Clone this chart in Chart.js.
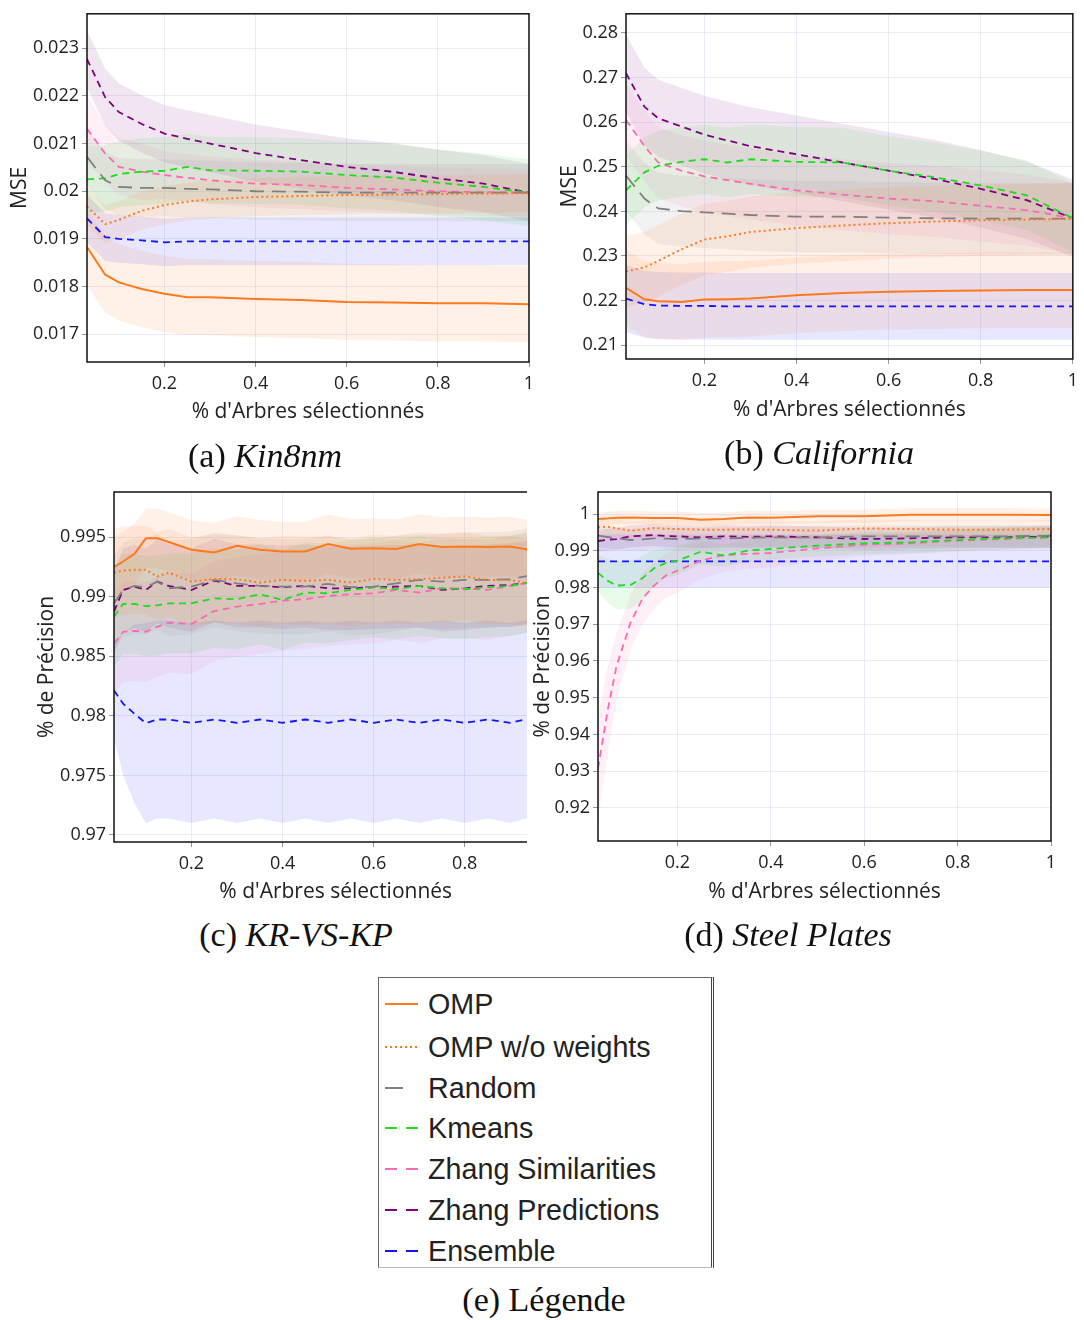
<!DOCTYPE html>
<html>
<head>
<meta charset="utf-8">
<script src="https://cdn.jsdelivr.net/npm/chart.js@4.4.1/dist/chart.umd.min.js"></script>
<style>
body { margin: 0; background: #fff; }
#page { position: relative; width: 1084px; height: 1320px; overflow: hidden; }
canvas { position: absolute; }
#krWrap { position: absolute; left: 0; top: 470px; width: 527px; height: 440px; overflow: hidden; }
.cap { position: absolute; width: 400px; text-align: center; font-family: "Liberation Serif", serif; font-size: 34px; line-height: 40px; color: #111; }
#legend { position: absolute; left: 378px; top: 977px; width: 332px; height: 289px; border: 1px solid #666; border-right: 3px double #444; border-bottom-color: #bbb; }
.row { position: absolute; left: 0; width: 330px; height: 40px; }
.row svg { position: absolute; left: 5px; top: 0; }
.row span { position: absolute; left: 49px; top: 0; line-height: 40px; font-family: "Liberation Sans", Arial, sans-serif; font-size: 28.7px; color: #222; white-space: nowrap; }
</style>
</head>
<body>
<div id="page">
  <canvas id="kin" width="545" height="430" style="left:0;top:0"></canvas>
  <canvas id="cal" width="544" height="430" style="left:540px;top:0"></canvas>
  <div id="krWrap"><canvas id="kr" width="567" height="440" style="left:0;top:0"></canvas></div>
  <canvas id="steel" width="564" height="440" style="left:520px;top:470px"></canvas>

  <div class="cap" style="left:65px;top:436px">(a) <i>Kin8nm</i></div>
  <div class="cap" style="left:619px;top:433px">(b) <i>California</i></div>
  <div class="cap" style="left:96px;top:915px">(c) <i>KR-VS-KP</i></div>
  <div class="cap" style="left:588px;top:915px">(d) <i>Steel Plates</i></div>
  <div class="cap" style="left:344px;top:1280px">(e) Légende</div>

  <div id="legend"></div>
</div>
<script>
// noms des méthodes
const names = ["OMP", "OMP w/o weights", "Random", "Kmeans", "Zhang Similarities", "Zhang Predictions", "Ensemble"];

// (a) Kin8nm
const xKin = [0.03, 0.07, 0.1, 0.15, 0.2, 0.25, 0.3, 0.4, 0.5, 0.6, 0.7, 0.8, 0.9, 1.0];
const kinOmp = [0.01883, 0.01825, 0.01809, 0.01795, 0.01785, 0.01778, 0.01778, 0.01774, 0.01772, 0.01768, 0.01767, 0.01765, 0.01765, 0.01763];
const kinOmpNw = [0.01968, 0.01931, 0.0194, 0.01959, 0.01971, 0.01978, 0.01983, 0.01988, 0.0199, 0.01992, 0.01993, 0.01994, 0.01995, 0.01996];
const kinRand = [0.02072, 0.02023, 0.02009, 0.02007, 0.02007, 0.02005, 0.02004, 0.02, 0.01999, 0.01997, 0.01997, 0.01997, 0.01997, 0.01997];
const kinKm = [0.02025, 0.02027, 0.02036, 0.02041, 0.02043, 0.02051, 0.02044, 0.02043, 0.02041, 0.02034, 0.02029, 0.02018, 0.02009, 0.01997];
const kinZs = [0.02131, 0.02079, 0.02051, 0.02041, 0.02034, 0.02028, 0.02023, 0.02016, 0.02013, 0.02007, 0.02004, 0.02, 0.01998, 0.01997];
const kinZp = [0.02277, 0.02197, 0.02166, 0.02141, 0.02121, 0.0211, 0.021, 0.0208, 0.02065, 0.02051, 0.02041, 0.02027, 0.02016, 0.01997];
const kinEns = [0.01943, 0.01904, 0.019, 0.01897, 0.01893, 0.01895, 0.01895, 0.01895, 0.01895, 0.01895, 0.01895, 0.01895, 0.01895, 0.01895];
const kinSd = [0.0008, 0.0004, 0.0006, 0.0007, [0.0007, 0.0006, 0.0006, 0.0006, 0.0005, 0.0005, 0.0005, 0.0005, 0.0005, 0.0005, 0.0005, 0.0005, 0.0005, 0.0005], 0.0006, 0.0005];

// (b) California
const xCal = [0.03, 0.07, 0.1, 0.15, 0.2, 0.25, 0.3, 0.4, 0.5, 0.6, 0.7, 0.8, 0.9, 1.0];
const calOmp = [0.22287, 0.22029, 0.21985, 0.2197, 0.22022, 0.2203, 0.22044, 0.22118, 0.22169, 0.22199, 0.22213, 0.22228, 0.22235, 0.22235];
const calOmpNw = [0.22654, 0.22743, 0.2289, 0.23147, 0.23368, 0.23441, 0.23537, 0.23625, 0.23684, 0.23735, 0.23772, 0.23801, 0.23816, 0.23831];
const calRand = [0.24801, 0.24287, 0.24066, 0.24007, 0.23978, 0.2395, 0.23919, 0.23882, 0.23882, 0.2386, 0.23845, 0.23838, 0.23838, 0.23838];
const calKm = [0.24471, 0.24875, 0.25022, 0.2511, 0.25169, 0.25096, 0.25169, 0.2511, 0.25096, 0.24912, 0.24765, 0.24581, 0.2436, 0.23846];
const calZs = [0.26051, 0.25463, 0.25096, 0.24912, 0.24787, 0.247, 0.24618, 0.24471, 0.24375, 0.24287, 0.24228, 0.24125, 0.24029, 0.23846];
const calZp = [0.27096, 0.26346, 0.26088, 0.25904, 0.25721, 0.2559, 0.25463, 0.2528, 0.25096, 0.24912, 0.24728, 0.24507, 0.2425, 0.23846];
const calEns = [0.22044, 0.21919, 0.2189, 0.2188, 0.2188, 0.2187, 0.2187, 0.2187, 0.2187, 0.2187, 0.2187, 0.2187, 0.2187, 0.2187];
const calSd = [0.0085, 0.008, 0.008, 0.0078, 0.008, 0.0087, 0.0075];

// (c) KR-VS-KP
const xKr = [0.03, 0.05, 0.075, 0.1, 0.125, 0.15, 0.2, 0.25, 0.3, 0.35, 0.4, 0.45, 0.5, 0.55, 0.6, 0.65, 0.7, 0.75, 0.8, 0.85, 0.9, 0.94];
const krOmp = [0.99247, 0.99295, 0.9936, 0.99489, 0.99489, 0.99458, 0.99393, 0.99371, 0.99427, 0.99393, 0.99379, 0.99379, 0.99441, 0.99402, 0.99407, 0.99399, 0.99441, 0.99416, 0.99421, 0.99416, 0.99421, 0.99393];
const krOmpNw = [0.99202, 0.99219, 0.99225, 0.99225, 0.99169, 0.99202, 0.99126, 0.99149, 0.99146, 0.99118, 0.9914, 0.99132, 0.9914, 0.99118, 0.99149, 0.9914, 0.99146, 0.9916, 0.99169, 0.9914, 0.9914, 0.99112];
const krRand = [0.98944, 0.99056, 0.9909, 0.99079, 0.99126, 0.9907, 0.99084, 0.9914, 0.99112, 0.9909, 0.99084, 0.99084, 0.99107, 0.99079, 0.99084, 0.99112, 0.9914, 0.99126, 0.9914, 0.9914, 0.99146, 0.99174];
const krKm = [0.98831, 0.98938, 0.98938, 0.98921, 0.98927, 0.98944, 0.98944, 0.98986, 0.98978, 0.9902, 0.98972, 0.99034, 0.99028, 0.99056, 0.99079, 0.99062, 0.9909, 0.9907, 0.99062, 0.99079, 0.9909, 0.99118];
const krZs = [0.98607, 0.98705, 0.98713, 0.98705, 0.98747, 0.98781, 0.9877, 0.98879, 0.98916, 0.98938, 0.98966, 0.98978, 0.99006, 0.9902, 0.99028, 0.99056, 0.99034, 0.9907, 0.9907, 0.99056, 0.9909, 0.99118];
const krZp = [0.98874, 0.99056, 0.99084, 0.99056, 0.99126, 0.9909, 0.99056, 0.99135, 0.9909, 0.9909, 0.99079, 0.9909, 0.9907, 0.9907, 0.99079, 0.99084, 0.9909, 0.99056, 0.9907, 0.9909, 0.99098, 0.99118];
const krEns = [0.98213, 0.98101, 0.98017, 0.97938, 0.97969, 0.97969, 0.97941, 0.97969, 0.97941, 0.97969, 0.97941, 0.97969, 0.97941, 0.97969, 0.97941, 0.97969, 0.97941, 0.97969, 0.97941, 0.97969, 0.97941, 0.97975];
const krEnsSd = [0.004, 0.006, 0.0075, 0.0084, 0.0083, 0.0083, 0.0084, 0.0083, 0.0084, 0.0083, 0.0084, 0.0083, 0.0084, 0.0083, 0.0084, 0.0083, 0.0084, 0.0083, 0.0084, 0.0083, 0.0084, 0.0083];
const krSd = [0.0025, 0.0037, 0.004, 0.0042, 0.0042, 0.0035, krEnsSd];

// (d) Steel Plates
const xSteel = [0.03, 0.05, 0.07, 0.1, 0.125, 0.15, 0.175, 0.2, 0.25, 0.3, 0.35, 0.4, 0.5, 0.6, 0.7, 0.8, 0.9, 1.0];
const stOmp = [0.99864, 0.99882, 0.999, 0.99909, 0.999, 0.99891, 0.99891, 0.99891, 0.99846, 0.99864, 0.99909, 0.999, 0.99937, 0.99937, 0.99982, 0.99982, 0.99982, 0.99973];
const stOmpNw = [0.99638, 0.99656, 0.9961, 0.99547, 0.9958, 0.9962, 0.996, 0.99592, 0.99574, 0.99574, 0.9958, 0.99574, 0.99547, 0.9961, 0.99592, 0.99574, 0.99574, 0.99592];
const stRand = [0.99411, 0.99375, 0.99339, 0.99293, 0.9931, 0.99339, 0.9933, 0.9932, 0.9933, 0.99339, 0.9935, 0.99366, 0.99366, 0.99393, 0.99393, 0.99393, 0.99393, 0.99411];
const stKm = [0.98397, 0.98188, 0.98053, 0.98071, 0.9825, 0.98524, 0.98668, 0.98732, 0.98976, 0.98868, 0.99004, 0.99049, 0.9914, 0.99203, 0.9923, 0.99293, 0.99339, 0.99366];
const stZs = [0.93071, 0.9461, 0.95879, 0.97056, 0.9769, 0.98053, 0.98324, 0.9846, 0.98732, 0.98886, 0.98913, 0.9894, 0.99067, 0.99167, 0.99203, 0.99275, 0.9932, 0.99366];
const stZp = [0.99266, 0.99302, 0.9932, 0.99393, 0.9941, 0.99429, 0.994, 0.99393, 0.99366, 0.99393, 0.9938, 0.99393, 0.99366, 0.9932, 0.99339, 0.99366, 0.99366, 0.99384];
const stEns = [0.98714, 0.98714, 0.98714, 0.98714, 0.98714, 0.98714, 0.98714, 0.98714, 0.98714, 0.98714, 0.98714, 0.98714, 0.98714, 0.98714, 0.98714, 0.98714, 0.98714, 0.98714];
const stKmSd = [0.005, 0.006, 0.0065, 0.0065, 0.006, 0.005, 0.004, 0.004, 0.0035, 0.003, 0.003, 0.003, 0.003, 0.003, 0.003, 0.003, 0.003, 0.003];
const stZsSd = [0.014, 0.012, 0.009, 0.0075, 0.007, 0.0065, 0.006, 0.006, 0.005, 0.0045, 0.004, 0.004, 0.0035, 0.003, 0.003, 0.003, 0.003, 0.003];
const stSd = [0.0018, 0.0025, 0.003, stKmSd, stZsSd, 0.003, 0.0073];

// styles des courbes
const colors = ["rgb(255,122,28)", "rgb(255,122,28)", "rgb(128,128,128)", "rgb(30,220,30)", "rgb(255,105,180)", "rgb(128,0,128)", "rgb(20,20,255)"];
const dashes = [[], [2, 3], [14, 8], [7, 5], [7, 5], [7, 5], [7, 5]];
const widths = [2, 2, 1.8, 1.8, 1.8, 1.8, 1.8];
const gridColor = "rgba(226,229,244,0.75)";

function withAlpha(c, a) {
    return c.replace("rgb(", "rgba(").replace(")", "," + a + ")");
}

function buildSets(xs, means, sds) {
    const sets = [];
    //bandes d'écart-type, dessinées sous les courbes
    means.forEach((m, i) => {
        const sd = sds[i];
        const s = (j) => Array.isArray(sd) ? sd[j] : sd;
        sets.push({ data: xs.map((x, j) => ({ x: x, y: m[j] + s(j) })), borderWidth: 0, pointRadius: 0, fill: false, order: 10 });
        sets.push({ data: xs.map((x, j) => ({ x: x, y: m[j] - s(j) })), borderWidth: 0, pointRadius: 0, fill: "-1", backgroundColor: withAlpha(colors[i], 0.1), order: 10 });
    });
    means.forEach((m, i) => {
        sets.push({
            label: names[i],
            data: xs.map((x, j) => ({ x: x, y: m[j] })),
            borderColor: colors[i], borderWidth: widths[i], borderDash: dashes[i],
            pointRadius: 0, fill: false, tension: 0, order: 0
        });
    });
    return sets;
}

const boxPlugin = {
    id: "box",
    afterDraw(chart) {
        const ctx = chart.ctx, a = chart.chartArea;
        ctx.save();
        ctx.strokeStyle = "#111";
        ctx.lineWidth = 1.5;
        ctx.strokeRect(a.left, a.top, a.right - a.left, a.bottom - a.top);
        ctx.restore();
    }
};

const fmt = (v) => String(+v.toFixed(6));

function makePanel(id, xs, means, sds, p) {
    new Chart(document.getElementById(id), {
        type: "line",
        data: { datasets: buildSets(xs, means, sds) },
        options: {
            responsive: false,
            animation: false,
            layout: { autoPadding: false, padding: p.pad },
            plugins: { legend: { display: false }, tooltip: { enabled: false } },
            scales: {
                x: {
                    type: "linear", min: p.xmin, max: p.xmax,
                    afterFit: (s) => { s.height = p.xh; },
                    ticks: { stepSize: 0.2, includeBounds: false, maxRotation: 0, autoSkip: false, padding: 6, color: "#222", font: { family: "Open Sans", size: 18 }, callback: fmt },
                    grid: { color: gridColor, tickColor: "#999", tickLength: 5 },
                    border: { display: false },
                    title: { display: true, text: "% d'Arbres sélectionnés", color: "#222", font: { family: "Open Sans", size: 21 }, padding: { top: 0, bottom: p.xtp } }
                },
                y: {
                    min: p.ymin, max: p.ymax,
                    afterFit: (s) => { s.width = p.yw; },
                    ticks: { stepSize: p.ystep, includeBounds: false, autoSkip: false, padding: 3, color: "#222", font: { family: "Open Sans", size: 18 }, callback: fmt },
                    grid: { color: gridColor, tickColor: "#999", tickLength: 5 },
                    border: { display: false },
                    title: { display: true, text: p.ytitle, color: "#222", font: { family: "Open Sans", size: 21 }, padding: { top: p.ytp, bottom: 0 } }
                }
            }
        },
        plugins: [boxPlugin]
    });
}

makePanel("kin", xKin, [kinOmp, kinOmpNw, kinRand, kinKm, kinZs, kinZp, kinEns], kinSd,
    { pad: { top: 12, right: 16, left: 0, bottom: 0 }, yw: 87, xh: 68, xtp: 5, ytp: 7, xmin: 0.03, xmax: 1.0, ymin: 0.01642, ymax: 0.02372, ystep: 0.001, ytitle: "MSE" });
makePanel("cal", xCal, [calOmp, calOmpNw, calRand, calKm, calZs, calZp, calEns], calSd,
    { pad: { top: 9, right: 6, left: 0, bottom: 0 }, yw: 86, xh: 71, xtp: 7, ytp: 17, xmin: 0.03, xmax: 1.0, ymin: 0.2069, ymax: 0.2843, ystep: 0.01, ytitle: "MSE" });
// le panneau (c) est coupé à droite par son conteneur
makePanel("kr", xKr, [krOmp, krOmpNw, krRand, krKm, krZs, krZp, krEns], krSd,
    { pad: { top: 22, right: 3, left: 0, bottom: 0 }, yw: 114, xh: 68, xtp: 5, ytp: 34, xmin: 0.03, xmax: 1.0036, ymin: 0.96941, ymax: 0.99878, ystep: 0.005, ytitle: "% de Précision" });
makePanel("steel", xSteel, [stOmp, stOmpNw, stRand, stKm, stZs, stZp, stEns], stSd,
    { pad: { top: 22, right: 33, left: 0, bottom: 0 }, yw: 78, xh: 69, xtp: 5, ytp: 10, xmin: 0.03, xmax: 1.0, ymin: 0.911, ymax: 1.006, ystep: 0.01, ytitle: "% de Précision" });

// légende (e)
const rowY = [1004, 1047, 1088, 1128, 1169, 1210, 1251];
const legend = document.getElementById("legend");
names.forEach((n, i) => {
    const row = document.createElement("div");
    row.className = "row";
    row.style.top = (rowY[i] - 978 - 20) + "px";
    let line;
    if (i === 0) line = '<line x1="1" y1="20" x2="34" y2="20" stroke="' + colors[i] + '" stroke-width="2"/>';
    else if (i === 1) line = '<line x1="1" y1="20" x2="34" y2="20" stroke="' + colors[i] + '" stroke-width="2" stroke-dasharray="2,3"/>';
    else if (i === 2) line = '<line x1="1" y1="20" x2="19" y2="20" stroke="' + colors[i] + '" stroke-width="2"/>';
    else line = '<line x1="1" y1="20" x2="34" y2="20" stroke="' + colors[i] + '" stroke-width="2" stroke-dasharray="12,9"/>';
    row.innerHTML = '<svg width="40" height="40">' + line + '</svg><span>' + n + '</span>';
    legend.appendChild(row);
});
</script>
</body>
</html>
